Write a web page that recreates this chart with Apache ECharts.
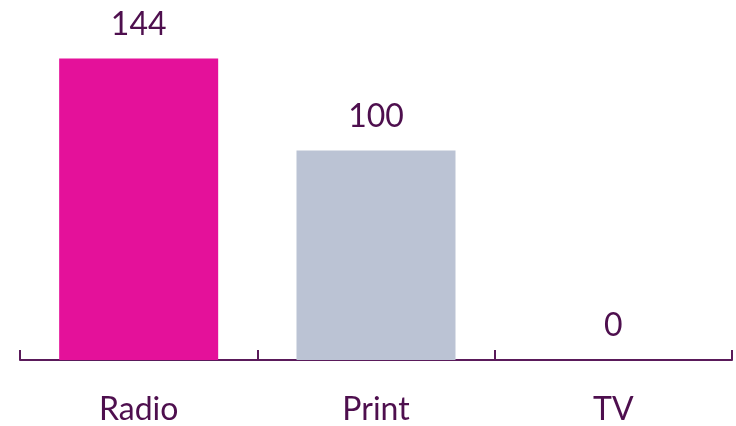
<!DOCTYPE html>
<html><head><meta charset="utf-8">
<script src="https://cdn.jsdelivr.net/npm/echarts@6/dist/echarts.min.js"></script>
<style>html,body{margin:0;padding:0;background:#fff}#c{width:736px;height:426px}</style>
</head><body><div id="c"></div>
<script>
const categories = ['Radio', 'Print', 'TV'];
const values = [144, 100, 0];
const colors = ['#E4119A', '#BBC3D4', '#BBC3D4'];
const textColor = '#4E0F4E';
const axisColor = '#5A1A5A';

const chart = echarts.init(document.getElementById('c'));
chart.setOption({
  animation: false,
  grid: { left: 20, right: 4, bottom: 64, top: 4 },
  xAxis: {
    type: 'category',
    data: categories,
    boundaryGap: true,
    axisLine: { show: true, lineStyle: { color: axisColor, width: 2 } },
    axisTick: { show: true, interval: 0, inside: true, length: 10, lineStyle: { color: axisColor, width: 2 } },
    axisLabel: { color: textColor, fontFamily: 'Lato', fontSize: 32, margin: 34 }
  },
  yAxis: { type: 'value', min: 0, max: 170, show: false, splitLine: { show: false } },
  series: [{
    type: 'bar',
    barWidth: '67%',
    data: values.map((v, i) => ({ value: v, itemStyle: { color: colors[i] } })),
    label: { show: true, position: 'top', distance: 18, color: textColor, fontFamily: 'Lato', fontSize: 32 }
  }]
});
</script></body></html>
